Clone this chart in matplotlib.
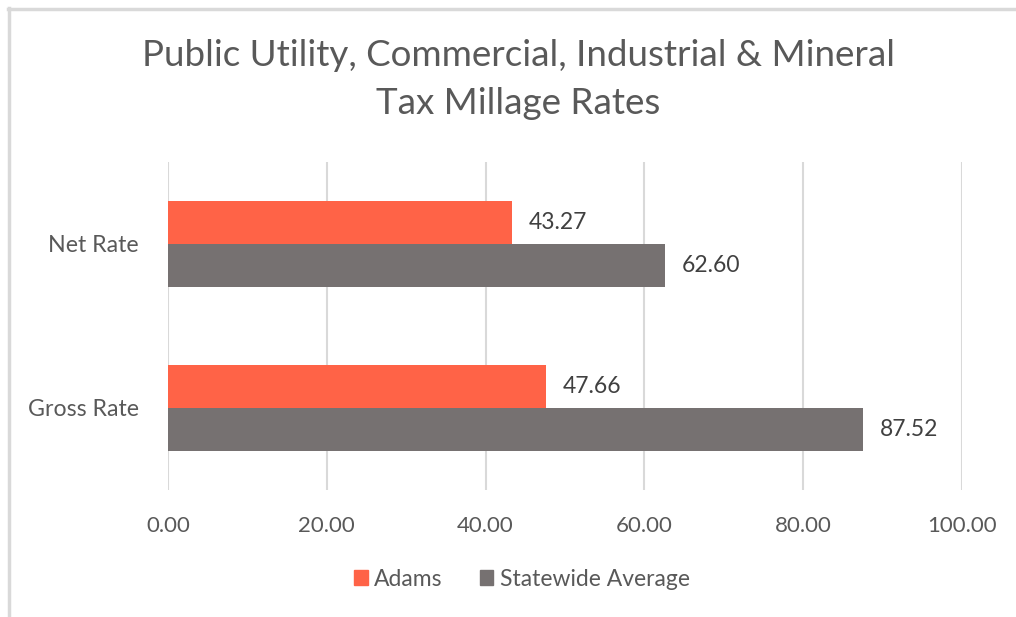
import matplotlib
matplotlib.use("Agg")
import matplotlib.pyplot as plt
from matplotlib.lines import Line2D
import numpy as np

categories = ["Gross Rate", "Net Rate"]
adams = [47.66, 43.27]
statewide = [87.52, 62.60]
series_names = ["Adams", "Statewide Average"]
xticks = [0, 20, 40, 60, 80, 100]

c_adams = "#FF6347"
c_state = "#767171"
txt = "#595959"
font = "Lato"

plt.rcParams['font.family'] = [font, 'DejaVu Sans']

fig = plt.figure(figsize=(10.16, 6.17), dpi=100)
ax = fig.add_axes([168/1016, 1-490/617, (962-168)/1016, (490-162)/617])

y = np.arange(len(categories))
h = 0.262
ax.barh(y + h/2, adams, height=h, color=c_adams, label=series_names[0], zorder=3)
ax.barh(y - h/2, statewide, height=h, color=c_state, label=series_names[1], zorder=3)

for yi, v in zip(y, adams):
    ax.text(v + 2.1, yi + h/2, f"{v:.2f}", va="center", ha="left", fontsize=16.5, color="#404040")
for yi, v in zip(y, statewide):
    ax.text(v + 2.1, yi - h/2, f"{v:.2f}", va="center", ha="left", fontsize=16.5, color="#404040")

ax.set_xlim(0, 100)
ax.set_ylim(-0.5, 1.5)
ax.set_xticks(xticks)
ax.set_xticklabels([f"{t:.2f}" for t in xticks], fontsize=16, color=txt)
ax.set_yticks(y)
ax.set_yticklabels(categories, fontsize=16.7, color=txt)
ax.tick_params(length=0)
ax.tick_params(axis='x', pad=19)
ax.tick_params(axis='y', pad=21)
ax.grid(axis='x', color="#D9D9D9", linewidth=1.5, zorder=0)
for s in ax.spines.values():
    s.set_visible(False)

fig.text(518/1016, 1-55/617, "Public Utility, Commercial, Industrial & Mineral", ha="center", va="center", fontsize=26.5, color=txt)
fig.text(518/1016, 1-104/617, "Tax Millage Rates", ha="center", va="center", fontsize=26.5, color=txt)

handles = [plt.Rectangle((0, 0), 1, 1, color=c_adams), plt.Rectangle((0, 0), 1, 1, color=c_state)]
fig.legend(handles, series_names, loc="center", bbox_to_anchor=(522/1016, 1-579/617), ncol=2,
           frameon=False, fontsize=16.5, labelcolor=txt, handlelength=0.6, handleheight=0.6,
           handletextpad=0.3, columnspacing=1.6)

# outer frame (left and top visible)
fig.add_artist(Line2D([9/1016, 9/1016], [0, 1-8/617], transform=fig.transFigure, color="#D9D9D9", linewidth=2.5))
fig.add_artist(Line2D([8/1016, 1], [1-9/617, 1-9/617], transform=fig.transFigure, color="#D9D9D9", linewidth=2.5))

fig.savefig("out.png", dpi=100, facecolor="white")
